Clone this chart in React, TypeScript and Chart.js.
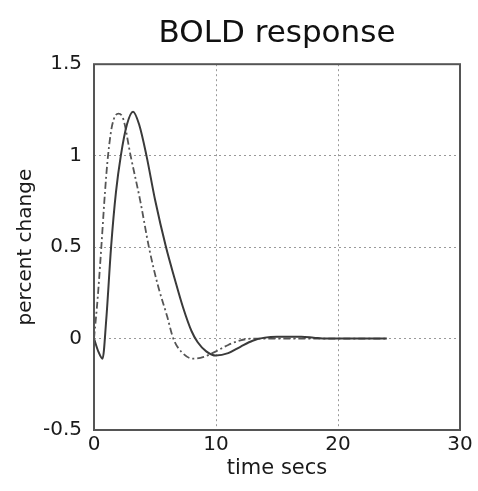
import React, { useEffect, useRef } from "react";
import { Chart, registerables } from "chart.js";

Chart.register(...registerables);

// Time axis (seconds) and percent-change samples for the two response curves
const solidTimes = [0, 0.35, 0.7, 1.0, 1.4, 1.8, 2.2, 2.7, 3.2, 3.7, 4.3, 5.0, 5.9, 6.6, 7.3, 8.0, 8.5, 9.2, 10, 11, 12, 13, 14, 15, 16, 17, 18, 19, 20, 22, 24];
const solidValues = [0, -0.07, -0.11, 0.1, 0.5, 0.8, 1.0, 1.17, 1.24, 1.17, 1.0, 0.76, 0.5, 0.33, 0.17, 0.04, -0.02, -0.07, -0.093, -0.08, -0.045, -0.012, 0.005, 0.01, 0.01, 0.01, 0.005, 0, 0, 0, 0];

const dashTimes = [0, 0.3, 0.6, 0.9, 1.15, 1.5, 2.0, 2.4, 3.0, 3.8, 4.5, 5.2, 6.0, 6.5, 7.2, 8.1, 9, 10, 11, 12, 13, 15, 18, 21, 24];
const dashValues = [0, 0.22, 0.5, 0.8, 1.0, 1.17, 1.23, 1.2, 1.0, 0.75, 0.5, 0.3, 0.12, 0.0, -0.075, -0.11, -0.1, -0.07, -0.035, -0.01, 0, 0, 0, 0, 0];

const xTicks = [0, 10, 20, 30];
const yTicks = [-0.5, 0, 0.5, 1, 1.5];

const FONT = "'DejaVu Sans', sans-serif";

// Closes the plot box on all four sides
const frame = {
  id: "frame",
  afterDatasetsDraw(chart: any) {
    const { ctx, chartArea } = chart;
    ctx.save();
    ctx.strokeStyle = "#555";
    ctx.lineWidth = 2;
    ctx.strokeRect(chartArea.left, chartArea.top, chartArea.right - chartArea.left, chartArea.bottom - chartArea.top);
    ctx.restore();
  },
};

export default function App() {
  const ref = useRef<HTMLCanvasElement | null>(null);

  useEffect(() => {
    if (!ref.current) return;
    const chart = new Chart(ref.current, {
      type: "line",
      data: {
        datasets: [
          {
            label: "response",
            data: solidTimes.map((t, i) => ({ x: t, y: solidValues[i] })),
            borderColor: "#3a3a3a",
            borderWidth: 2,
            pointRadius: 0,
            cubicInterpolationMode: "monotone",
          },
          {
            label: "shifted",
            data: dashTimes.map((t, i) => ({ x: t, y: dashValues[i] })),
            borderColor: "#555",
            borderWidth: 1.8,
            borderDash: [7, 3, 2, 3],
            pointRadius: 0,
            cubicInterpolationMode: "monotone",
          },
        ],
      },
      options: {
        animation: false,
        responsive: false,
        layout: { padding: { left: 0, right: 18, top: 0, bottom: 0 } },
        plugins: {
          legend: { display: false },
          tooltip: { enabled: false },
          title: {
            display: true,
            fullSize: false,
            text: "BOLD response",
            color: "#111",
            font: { family: FONT, size: 31, weight: "normal" },
            padding: { top: 15, bottom: 12 },
          },
        },
        scales: {
          x: {
            type: "linear",
            min: 0,
            max: 30,
            afterBuildTicks: (s: any) => { s.ticks = xTicks.map((v) => ({ value: v })); },
            afterFit: (s: any) => { s.height = 61; },
            ticks: { color: "#1a1a1a", padding: 3, font: { family: FONT, size: 20 }, maxRotation: 0 },
            grid: { color: "#999", drawTicks: false, lineWidth: 1 },
            border: { display: false, dash: [2, 3] },
            title: {
              display: true,
              text: "time secs",
              color: "#1a1a1a",
              font: { family: FONT, size: 21 },
              padding: { top: 0, bottom: 10 },
            },
          },
          y: {
            type: "linear",
            min: -0.5,
            max: 1.5,
            afterBuildTicks: (s: any) => { s.ticks = yTicks.map((v) => ({ value: v })); },
            afterFit: (s: any) => { s.width = 94; },
            ticks: {
              color: "#1a1a1a",
              padding: 12,
              font: { family: FONT, size: 20 },
              callback: (v: any) => String(v),
            },
            grid: { color: "#999", drawTicks: false, lineWidth: 1 },
            border: { display: false, dash: [2, 3] },
            title: {
              display: true,
              text: "percent change",
              color: "#1a1a1a",
              font: { family: FONT, size: 20 },
              padding: { top: 14, bottom: 0 },
            },
          },
        },
      },
      plugins: [frame],
    } as any);
    return () => chart.destroy();
  }, []);

  return (
    <div style={{ position: "absolute", left: 0, top: 0, width: 478, height: 491, background: "#fff" }}>
      <canvas ref={ref} width={478} height={491} style={{ display: "block" }} />
    </div>
  );
}
